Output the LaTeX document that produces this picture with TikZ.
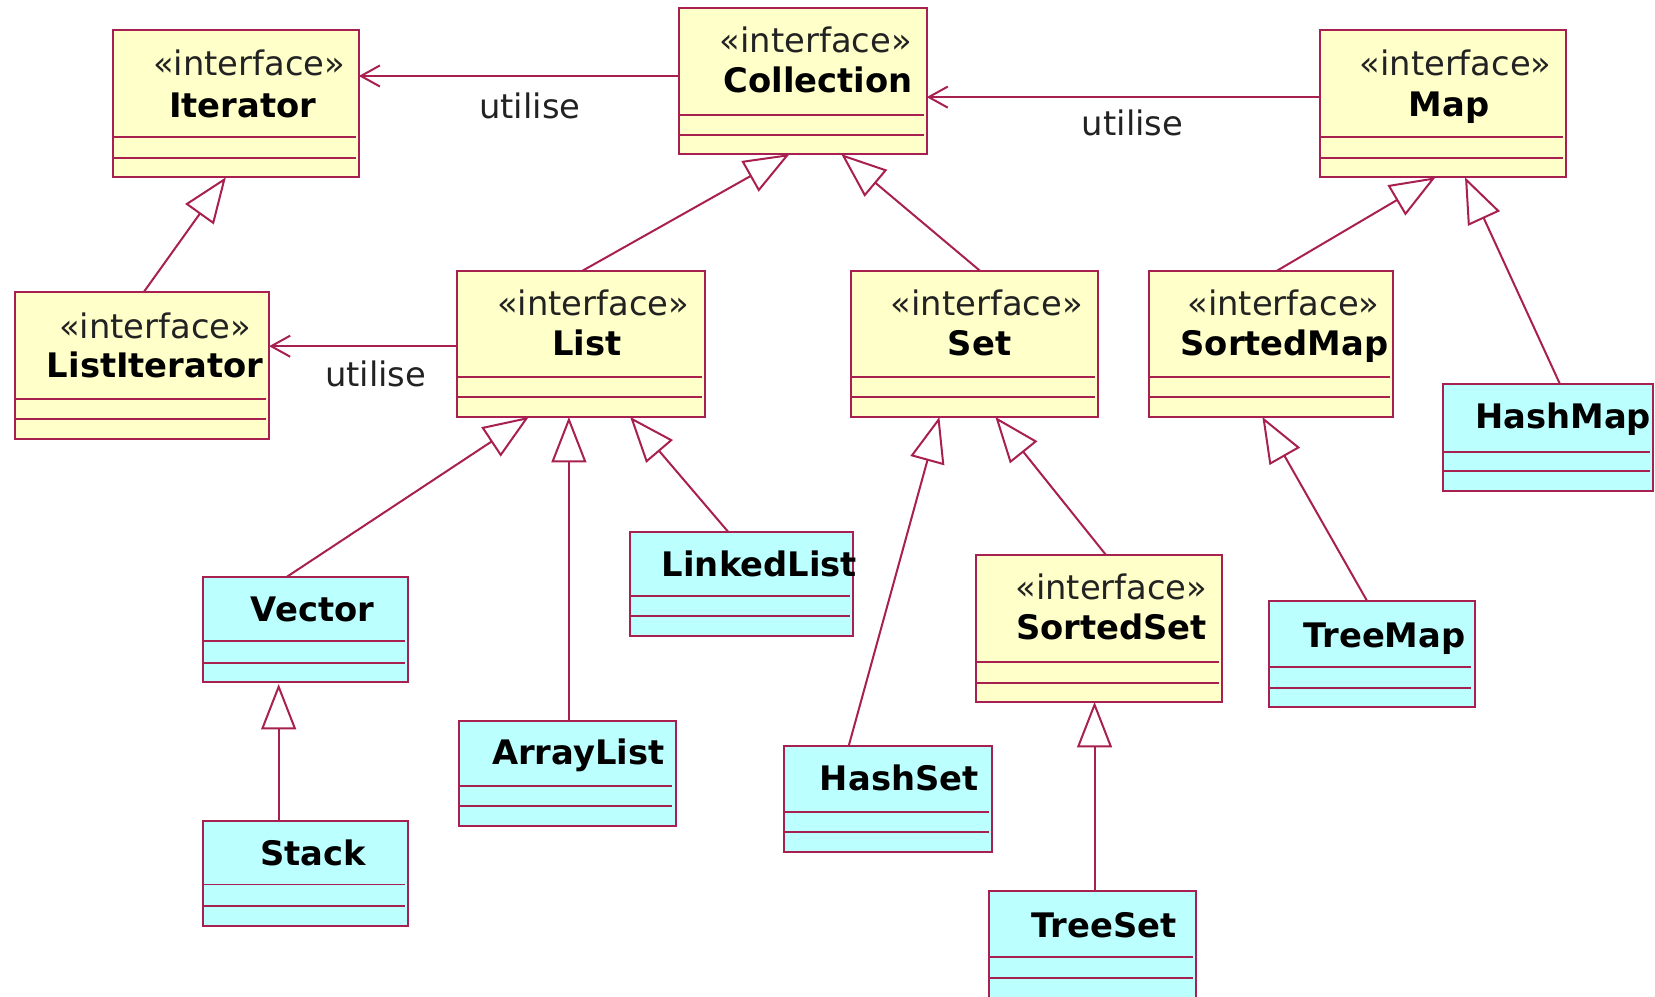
\documentclass[tikz,border=0pt]{standalone}
\usepackage{fontspec}
\setmainfont{DejaVu Sans}
\usetikzlibrary{arrows.meta}

\definecolor{umlline}{HTML}{A8204F}
\definecolor{ifacefill}{HTML}{FFFFCA}
\definecolor{clsfill}{HTML}{BBFFFF}
\definecolor{textgray}{HTML}{222222}

% #1 name, #2 style, #3..#6 corners (x1,y1,x2,y2), #7 #8 offsets of the compartment lines
\newcommand{\umlbox}[8]{%
  \node[#2, minimum width={#5-#3}, minimum height={#6-#4}] (#1) at (#3,#4) {};
  \draw[sep] ([yshift=-#7pt]#1.north west) -- ([xshift=-3pt,yshift=-#7pt]#1.north east);
  \draw[sep] ([yshift=-#8pt]#1.north west) -- ([xshift=-3pt,yshift=-#8pt]#1.north east);
}

\begin{document}
\begin{tikzpicture}[x=1pt,y=-1pt,
  box/.style={draw=umlline, line width=1.9pt, rectangle, inner sep=0pt, outer sep=0pt, anchor=north west},
  iface/.style={box, fill=ifacefill},
  cls/.style={box, fill=clsfill},
  sep/.style={draw=umlline, line width=1.8pt},
  stereo/.style={anchor=base, inner sep=0pt, text=textgray, font=\fontsize{32}{38}\selectfont},
  title/.style={anchor=base, inner sep=0pt, text=black, font=\fontsize{32}{38}\selectfont\bfseries},
  lbl/.style={anchor=base, inner sep=0pt, text=textgray, font=\fontsize{32}{38}\selectfont},
  gen/.style={draw=umlline, line width=1.9pt, -{Triangle[length=43pt, width=33pt, fill=white]}},
  uses/.style={draw=umlline, line width=1.9pt, -{Straight Barb[length=18pt, width=20pt]}}
]
\useasboundingbox (0,0) rectangle (1568,944);

% interfaces
\umlbox{iter}{iface}{107}{28}{340}{168}{102}{122}
\umlbox{coll}{iface}{643}{8}{878}{146}{101}{120}
\umlbox{map}{iface}{1251}{28}{1484}{168}{102}{122}
\umlbox{liter}{iface}{14}{277}{255}{416}{101}{120}
\umlbox{list}{iface}{433}{257}{668}{395}{100}{119}
\umlbox{set}{iface}{806}{257}{1040}{395}{100}{119}
\umlbox{smap}{iface}{1089}{257}{1320}{395}{100}{119}
\umlbox{sset}{iface}{925}{526}{1158}{665}{101}{121}

% classes
\umlbox{hmap}{cls}{1367}{364}{1566}{465}{64}{82}
\umlbox{vect}{cls}{192}{547}{387}{646}{60}{81}
\umlbox{llist}{cls}{597}{504}{808}{603}{61}{80}
\umlbox{alist}{cls}{435}{683}{640}{783}{62}{81}
\umlbox{stack}{cls}{192}{778}{387}{877}{60}{80}
\umlbox{hset}{cls}{743}{707}{940}{807}{62}{81}
\umlbox{tmap}{cls}{1202}{569}{1397}{670}{63}{83}
\umlbox{tset}{cls}{937}{844}{1133}{985}{63}{83}

% interface headings
\node[stereo] (iter-s) at (236,72) {«interface»};
\node[title]  (iter-t) at (230,111) {Iterator};
\node[stereo] (coll-s) at (773,50) {«interface»};
\node[title]  (coll-t) at (775,88) {Collection};
\node[stereo] (map-s) at (1379,72) {«interface»};
\node[title]  (map-t) at (1373,110) {Map};
\node[stereo] (liter-s) at (147,321) {«interface»};
\node[title]  (liter-t) at (147,358) {ListIterator};
\node[stereo] (list-s) at (562,299) {«interface»};
\node[title]  (list-t) at (556,337) {List};
\node[stereo] (set-s) at (935,299) {«interface»};
\node[title]  (set-t) at (928,337) {Set};
\node[stereo] (smap-s) at (1216,299) {«interface»};
\node[title]  (smap-t) at (1217,337) {SortedMap};
\node[stereo] (sset-s) at (1053,568) {«interface»};
\node[title]  (sset-t) at (1053,606) {SortedSet};

% class names
\node[title] (hmap-t) at (1481,406) {HashMap};
\node[title] (vect-t) at (296,589) {Vector};
\node[title] (llist-t) at (719.5,546) {LinkedList};
\node[title] (alist-t) at (548,724) {ArrayList};
\node[title] (stack-t) at (296.5,820) {Stack};
\node[title] (hset-t) at (852,749) {HashSet};
\node[title] (tset-t) at (1046,888) {TreeSet};
\node[title] (tmap-t) at (1311.5,613) {TreeMap};

% usage
\draw[uses] ([yshift=-64pt]coll.north west) -- ([yshift=-44pt]iter.north east);
\draw[uses] ([yshift=-64pt]map.north west) -- ([yshift=-84pt]coll.north east);
\draw[uses] ([yshift=-71pt]list.north west) -- ([yshift=-51pt]liter.north east);
\node[lbl] (use1) at (502,112) {utilise};
\node[lbl] (use2) at (1073,128) {utilise};
\node[lbl] (use3) at (356,366) {utilise};

% generalisation
\draw[gen] ([xshift=1.5pt]liter.north) -- ([xshift=-9.5pt]iter.south);
\draw[gen] ([xshift=0.5pt]list.north) -- ([xshift=-12.5pt]coll.south);
\draw[gen] ([xshift=6pt]set.north) -- ([xshift=36.5pt]coll.south);
\draw[gen] ([xshift=4.5pt]smap.north) -- ([xshift=-7.5pt]map.south);
\draw[gen] ([xshift=11.5pt]hmap.north) -- ([xshift=20.5pt]map.south);
\draw[gen] ([xshift=-18.5pt]vect.north) -- ([xshift=-49.5pt]list.south);
\draw[gen] ([xshift=1.5pt]alist.north) -- ([xshift=-11.5pt]list.south);
\draw[gen] ([xshift=-12.5pt]llist.north) -- ([xshift=46.5pt]list.south);
\draw[gen] ([xshift=-37.5pt]hset.north) -- ([xshift=-33pt]set.south);
\draw[gen] ([xshift=6.5pt]sset.north) -- ([xshift=20pt]set.south);
\draw[gen] ([xshift=-4.5pt]tmap.north) -- ([xshift=-8.5pt]smap.south);
\draw[gen] ([xshift=-25.5pt]stack.north) -- ([xshift=-25.5pt,yshift=-2pt]vect.south);
\draw[gen] ([xshift=2pt]tset.north) -- ([xshift=-4.5pt]sset.south);
\end{tikzpicture}
\end{document}
